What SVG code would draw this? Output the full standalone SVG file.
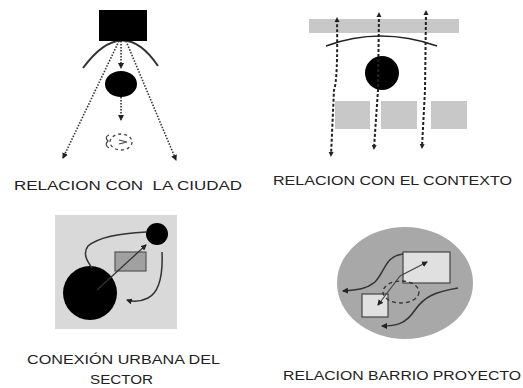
<svg xmlns="http://www.w3.org/2000/svg" width="523" height="388" viewBox="0 0 523 388">
<style>
.lbl{font-family:"Century Gothic","URW Gothic","Liberation Sans",Arial,sans-serif;font-size:12px;fill:#222;}
.dot{fill:none;stroke:#333;stroke-width:1.6;stroke-dasharray:1.5 1.5;}
.dash{fill:none;stroke:#222;stroke-width:2;stroke-dasharray:3 2;}
.thin{fill:none;stroke:#333;stroke-width:1.5;}
</style>
<defs>
<marker id="ah" markerWidth="6" markerHeight="6" refX="5" refY="3" orient="auto" markerUnits="userSpaceOnUse"><path d="M0,0 L6,3 L0,6 z" fill="#222"/></marker>
<marker id="dt" markerWidth="6" markerHeight="6" refX="3" refY="3" orient="auto-start-reverse" markerUnits="userSpaceOnUse"><path d="M0,0.5 L5,3 L0,5.5 z" fill="#222"/></marker>
</defs>
<rect width="523" height="388" fill="#fff"/>

<g id="ciudad">
<path d="M83,68 Q123,14 158,66" fill="none" stroke="#333" stroke-width="2"/>
<rect x="99" y="10" width="48" height="31" fill="#000"/>
<ellipse cx="121" cy="84" rx="16" ry="13" fill="#000"/>
<path d="M119,41 L63,158" class="dot" marker-end="url(#ah)"/>
<path d="M126,41 L176,160" class="dot" marker-end="url(#ah)"/>
<path d="M121,41 L121,68" class="dot" marker-end="url(#ah)"/>
<path d="M121,97 L121,120" class="dot" marker-end="url(#ah)"/>
<ellipse cx="121" cy="142" rx="11" ry="8" fill="none" stroke="#444" stroke-width="1.3" stroke-dasharray="3 3"/>
<path d="M109,135 Q104,137 108,141 Q104,145 109,148" fill="none" stroke="#444" stroke-width="1.2"/>
<path d="M119,140 L127,142 L119,144" fill="none" stroke="#444" stroke-width="1.2"/>
</g>

<g id="contexto">
<rect x="309" y="19" width="150" height="14" fill="#c8c8c8"/>
<rect x="335" y="101" width="35" height="28" fill="#c8c8c8"/>
<rect x="381" y="101" width="36" height="28" fill="#c8c8c8"/>
<rect x="431" y="101" width="36" height="28" fill="#c8c8c8"/>
<path d="M326,46 Q380,26 437,46" fill="none" stroke="#222" stroke-width="1.5"/>
<circle cx="382" cy="73" r="17" fill="#000"/>
<path d="M337,19 Q338,80 334,90 L331,155" class="dash" marker-start="url(#dt)" marker-end="url(#dt)"/>
<path d="M379,14 L378,90 L374,148" class="dash" marker-start="url(#dt)" marker-end="url(#dt)"/>
<path d="M426,12 L425,90 L422,147" class="dash" marker-start="url(#dt)" marker-end="url(#dt)"/>
</g>

<g id="conexion">
<rect x="55" y="215" width="122" height="114" fill="#d9d9d9"/>
<rect x="115" y="252" width="31" height="19" fill="#a0a0a0" stroke="#555" stroke-width="1.2"/>
<circle cx="90" cy="293" r="27" fill="#000"/>
<circle cx="157" cy="234" r="11" fill="#000"/>
<path d="M97,290 L146,245" fill="none" stroke="#333" stroke-width="1.3" marker-end="url(#ah)"/>
<path d="M146,232 C125,233 100,236 88,246 C82,254 88,262 92,268" class="thin"/>
<path d="M162,252 C163,275 160,292 148,298 C140,302 133,302 127,300" class="thin" marker-end="url(#ah)"/>
</g>

<g id="barrio">
<ellipse cx="405" cy="283" rx="68" ry="56" fill="#a8a8a8"/>
<rect x="403" y="252" width="47" height="31" fill="#e0e0e0" stroke="#444" stroke-width="1.2"/>
<rect x="362" y="294" width="26" height="23" fill="#e0e0e0" stroke="#444" stroke-width="1.2"/>
<ellipse cx="401" cy="292" rx="18" ry="11" fill="none" stroke="#333" stroke-width="1.3" stroke-dasharray="4 3"/>
<path d="M400,276 L427,262" fill="none" stroke="#444" stroke-width="1.2" marker-end="url(#ah)"/>
<path d="M400,276 L378,305" fill="none" stroke="#444" stroke-width="1.2" marker-end="url(#ah)"/>
<path d="M403,254 C385,256 385,272 375,282 C365,290 355,290 343,291" class="thin" marker-end="url(#ah)"/>
<path d="M458,288 C435,292 425,296 415,310 C405,325 395,326 382,326" class="thin" marker-end="url(#ah)"/>
</g>

<g id="labels">
<text class="lbl" x="14" y="190" textLength="228" lengthAdjust="spacingAndGlyphs" xml:space="preserve">RELACION CON  LA CIUDAD</text>
<text class="lbl" x="273" y="185" textLength="239" lengthAdjust="spacingAndGlyphs">RELACION CON EL CONTEXTO</text>
<text class="lbl" x="27" y="364" textLength="193" lengthAdjust="spacingAndGlyphs">CONEXIÓN URBANA DEL</text>
<text class="lbl" x="90" y="384" textLength="63" lengthAdjust="spacingAndGlyphs">SECTOR</text>
<text class="lbl" x="283" y="380" textLength="238" lengthAdjust="spacingAndGlyphs">RELACION BARRIO PROYECTO</text>
</g>
</svg>
